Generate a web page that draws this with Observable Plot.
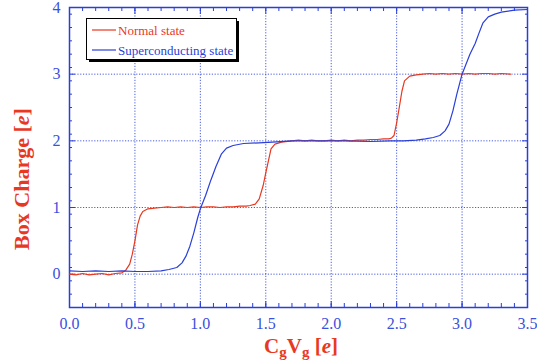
<!DOCTYPE html>
<html>
<head>
<meta charset="utf-8">
<script src="https://cdn.jsdelivr.net/npm/d3@7"></script>
<script src="https://cdn.jsdelivr.net/npm/@observablehq/plot@0.6"></script>
<style>
  html, body { margin: 0; padding: 0; background: #fff; }
  #chart { width: 537px; height: 363px; }
</style>
</head>
<body>
<div id="chart"></div>
<script>
// ---- data ----
const normalX = [0.0,0.05,0.1,0.15,0.2,0.25,0.3,0.35,0.4,0.43,0.46,0.48,0.5,0.52,0.54,0.56,0.6,0.65,0.7,0.75,0.8,0.85,0.9,0.95,1.0,1.05,1.1,1.15,1.2,1.25,1.3,1.35,1.38,1.42,1.45,1.48,1.5,1.52,1.54,1.57,1.62,1.7,1.75,1.8,1.85,1.9,1.95,2.0,2.05,2.1,2.15,2.2,2.25,2.3,2.35,2.4,2.44,2.46,2.48,2.5,2.52,2.54,2.56,2.6,2.65,2.7,2.75,2.8,2.85,2.9,2.95,3.0,3.05,3.1,3.15,3.2,3.25,3.3,3.37];
const normalY = [0.0,-0.01,0.01,-0.01,0.0,0.01,-0.01,0.01,0.02,0.06,0.15,0.3,0.5,0.74,0.87,0.94,0.98,0.99,1.0,1.01,1.0,1.01,1.0,1.01,1.0,1.01,1.01,1.0,1.01,1.01,1.02,1.02,1.03,1.05,1.13,1.33,1.52,1.7,1.88,1.95,1.98,2.0,2.01,2.0,2.01,2.0,2.0,2.01,2.0,2.01,2.0,2.01,2.01,2.02,2.02,2.03,2.03,2.04,2.08,2.27,2.5,2.74,2.9,2.97,2.99,3.0,3.01,3.0,3.01,3.0,3.01,3.0,3.01,3.0,3.01,3.01,3.0,3.01,3.0];

const supX = [0.0,0.1,0.2,0.3,0.4,0.5,0.6,0.7,0.76,0.82,0.86,0.89,0.92,0.95,0.98,1.0,1.04,1.08,1.12,1.16,1.2,1.25,1.33,1.45,1.55,1.7,1.9,2.1,2.3,2.45,2.55,2.65,2.72,2.78,2.83,2.87,2.9,2.93,2.96,2.98,3.0,3.03,3.06,3.1,3.13,3.16,3.2,3.25,3.3,3.4,3.5];
const supY = [0.05,0.04,0.05,0.04,0.05,0.04,0.04,0.05,0.07,0.1,0.17,0.27,0.42,0.62,0.85,0.98,1.18,1.41,1.62,1.8,1.89,1.93,1.96,1.97,1.98,2.0,2.0,2.0,1.99,2.0,2.0,2.01,2.03,2.05,2.08,2.15,2.25,2.45,2.7,2.85,3.0,3.15,3.3,3.46,3.62,3.77,3.86,3.9,3.93,3.96,3.97];

const xMajor = [0, 0.5, 1, 1.5, 2, 2.5, 3, 3.5];
const xMinor = d3.range(0, 36).map(i => i / 10);
const yMajor = [0, 1, 2, 3, 4];
const yMinor = d3.range(-5, 41, 2).map(i => i / 10);
const xGrid = [0.5, 1, 1.5, 2, 2.5, 3];
const yGrid = [0, 1, 2, 3];
const seriesNames = ["Normal state", "Superconducting state"];

// ---- styles ----
const RED = "#e8381f";
const BLUE = "#2a3fd8";
const LABEL_BLUE = "#3b50dc";
const FONT = "'Liberation Serif', 'Times New Roman', serif";

const normal = normalX.map((x, i) => ({x, y: normalY[i]}));
const sup = supX.map((x, i) => ({x, y: supY[i]}));

const tickStyle = {stroke: BLUE, tickFormat: () => "", label: null};

const chart = Plot.plot({
  width: 537,
  height: 363,
  marginLeft: 69,
  marginRight: 10,
  marginTop: 7,
  marginBottom: 56,
  style: {fontFamily: FONT, background: "white", overflow: "visible"},
  x: {domain: [0, 3.5], axis: null},
  y: {domain: [-0.5, 4], axis: null},
  marks: [
    Plot.gridX(xGrid, {stroke: BLUE, strokeOpacity: 0.85, strokeDasharray: "1.2,1.6", strokeWidth: 1}),
    Plot.gridY(yGrid, {stroke: BLUE, strokeOpacity: 0.85, strokeDasharray: "1.2,1.6", strokeWidth: 1}),
    // inward ticks
    Plot.axisX(xMinor, {anchor: "bottom", tickSize: -4, ...tickStyle}),
    Plot.axisX(xMinor, {anchor: "top", tickSize: -3, ...tickStyle}),
    Plot.axisY(yMinor, {anchor: "left", tickSize: -3, ...tickStyle}),
    Plot.axisY(yMinor, {anchor: "right", tickSize: -3, ...tickStyle}),
    Plot.axisX(xMajor, {anchor: "bottom", tickSize: -6, ...tickStyle}),
    Plot.axisX(xMajor, {anchor: "top", tickSize: -6, ...tickStyle}),
    Plot.axisY(yMajor, {anchor: "left", tickSize: -6, ...tickStyle}),
    Plot.axisY(yMajor, {anchor: "right", tickSize: -6, ...tickStyle}),
    // tick labels
    Plot.axisX(xMajor, {anchor: "bottom", tickSize: 0, tickPadding: 10, tickFormat: d => d.toFixed(1), fontSize: 16, fill: LABEL_BLUE, label: null}),
    Plot.axisY(yMajor, {anchor: "left", tickSize: 0, tickPadding: 9, tickFormat: d => String(d), fontSize: 16, fill: LABEL_BLUE, label: null}),
    Plot.frame({stroke: BLUE, strokeWidth: 1.5}),
    Plot.line(normal, {x: "x", y: "y", stroke: RED, strokeWidth: 1.2}),
    Plot.line(sup, {x: "x", y: "y", stroke: BLUE, strokeWidth: 1.2})
  ]
});

document.getElementById("chart").appendChild(chart);

// ---- axis titles and legend (real SVG text) ----
const svg = d3.select(chart);

// x title: CgVg [e]
const xt = svg.append("text")
  .attr("x", 301).attr("y", 353)
  .attr("text-anchor", "middle")
  .attr("fill", RED)
  .style("font-family", FONT)
  .attr("font-weight", "bold")
  .attr("font-size", 21);
xt.append("tspan").text("C");
xt.append("tspan").attr("font-size", 15).attr("dy", 4).text("g");
xt.append("tspan").attr("dy", -4).text("V");
xt.append("tspan").attr("font-size", 15).attr("dy", 4).text("g");
xt.append("tspan").attr("dy", -4).text(" [");
xt.append("tspan").attr("font-style", "italic").text("e");
xt.append("tspan").text("]");

// y title: Box Charge [e]
const yt = svg.append("text")
  .attr("transform", "translate(29,179) rotate(-90)")
  .attr("text-anchor", "middle")
  .attr("fill", RED)
  .style("font-family", FONT)
  .attr("font-weight", "bold")
  .attr("font-size", 22);
yt.append("tspan").text("Box Charge [");
yt.append("tspan").attr("font-style", "italic").text("e");
yt.append("tspan").text("]");

// legend
const lg = svg.append("g").attr("text-anchor", "start");
lg.append("rect").attr("x", 89).attr("y", 21).attr("width", 150).attr("height", 41).attr("fill", "#000");
lg.append("rect").attr("x", 86.5).attr("y", 18.5).attr("width", 150).attr("height", 41)
  .attr("fill", "#fff").attr("stroke", "#000").attr("stroke-width", 1);
const legendColors = [RED, BLUE];
seriesNames.forEach((name, i) => {
  const y = 30 + i * 20;
  lg.append("line").attr("x1", 92).attr("x2", 116).attr("y1", y).attr("y2", y)
    .attr("stroke", legendColors[i]).attr("stroke-width", 1.2);
  lg.append("text").attr("x", 118).attr("y", y + 4.5)
    .attr("text-anchor", "start")
    .attr("fill", legendColors[i]).style("font-family", FONT).attr("font-size", 13)
    .text(name);
});
</script>
</body>
</html>
